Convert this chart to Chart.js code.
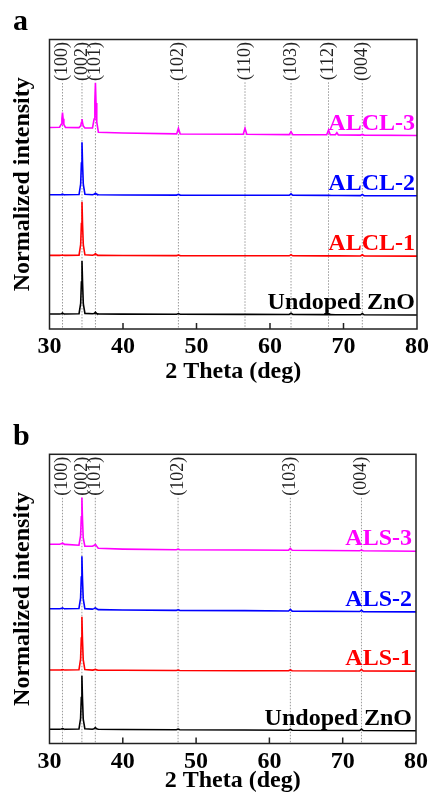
<!DOCTYPE html>
<html>
<head>
<meta charset="utf-8">
<script src="https://cdn.jsdelivr.net/npm/chart.js@4.4.1/dist/chart.umd.min.js"></script>
<style>
  html, body { margin: 0; padding: 0; background: #fff; }
  body { width: 432px; height: 795px; position: relative; overflow: hidden; }
  .panel { position: absolute; left: 0; width: 432px; }
  #wa { top: 0; height: 395px; }
  #wb { top: 395px; height: 400px; }
</style>
</head>
<body>
<div class="panel" id="wa"><canvas id="ca" width="432" height="395"></canvas></div>
<div class="panel" id="wb"><canvas id="cb" width="432" height="400"></canvas></div>
<script>
// ---------- DATA (2θ in degrees, intensity in normalized, offset-stacked units) ----------
const xTicks = [30, 40, 50, 60, 70, 80];

// Panel a
const peakPosA = [31.77, 34.42, 36.25, 47.54, 56.60, 62.86, 67.96, 72.56];
const peakLabA = ['(100)', '(002)', '(101)', '(102)', '(110)', '(103)', '(112)', '(004)'];
const seriesNamesA = ['Undoped ZnO', 'ALCL-1', 'ALCL-2', 'ALCL-3'];
const thetaA = [30,
  31.37, 31.59, 31.69, 31.77, 31.85, 31.95, 32.17,
  34.02, 34.24, 34.34, 34.42, 34.50, 34.60, 34.82,
  35.85, 36.07, 36.17, 36.25, 36.33, 36.43, 36.65,
  40,
  47.30, 47.54, 47.78, 56.36, 56.60, 56.84, 62.62, 62.86, 63.10,
  67.72, 67.96, 68.20, 68.90, 69.10, 69.30, 72.32, 72.56, 72.80,
  80];
const undopedA = [15.0,
  15.0, 15.2, 15.6, 16.0, 15.6, 15.2, 15.0,
  15.3, 25.5, 47, 68, 46, 25, 15.6,
  15.2, 15.5, 16.2, 16.8, 16.1, 15.4, 15.1,
  14.9,
  14.8, 15.4, 14.8, 14.6, 14.6, 14.6, 14.5, 15.8, 14.5,
  14.4, 14.4, 14.4, 14.3, 14.3, 14.3, 14.2, 15.6, 14.2,
  14.0];
const alcl1 = [73.6,
  73.6, 73.7, 73.8, 73.9, 73.8, 73.7, 73.6,
  73.8, 84.5, 105.5, 127.3, 104, 84, 74.2,
  73.7, 74.2, 74.8, 75.2, 74.8, 74.2, 73.6,
  73.5,
  73.4, 74.0, 73.4, 73.3, 73.3, 73.3, 73.2, 74.4, 73.2,
  73.1, 73.2, 73.1, 73.1, 73.1, 73.1, 73.0, 74.2, 73.0,
  72.9];
const alcl2 = [134.2,
  134.2, 134.4, 134.6, 134.8, 134.6, 134.4, 134.2,
  134.5, 145, 166, 186.7, 164.5, 144.5, 134.8,
  134.3, 134.8, 135.4, 135.8, 135.4, 134.8, 134.2,
  134.0,
  133.9, 134.7, 133.9, 133.8, 133.8, 133.8, 133.7, 135.2, 133.7,
  133.6, 133.7, 133.6, 133.5, 133.5, 133.5, 133.4, 134.6, 133.4,
  133.3];
const alcl3 = [201.5,
  201.8, 204.7, 210.5, 216.3, 210.3, 204.5, 201.6,
  201.4, 203.1, 206.5, 210.0, 206.2, 202.9, 201.0,
  201.0, 210, 228, 246.3, 226, 207, 196.8,
  196.0,
  195.1, 200.7, 195.0, 194.7, 200.7, 194.7, 194.4, 197.3, 194.3,
  194.2, 199.0, 194.3, 194.3, 196.3, 194.1, 193.9, 194.6, 193.9,
  193.5];

// Panel b
const peakPosB = [31.77, 34.42, 36.25, 47.54, 62.86, 72.56];
const peakLabB = ['(100)', '(002)', '(101)', '(102)', '(103)', '(004)'];
const seriesNamesB = ['Undoped ZnO', 'ALS-1', 'ALS-2', 'ALS-3'];
const thetaB = [30,
  31.37, 31.59, 31.69, 31.77, 31.85, 31.95, 32.17,
  34.02, 34.24, 34.34, 34.42, 34.50, 34.60, 34.82,
  35.85, 36.07, 36.17, 36.25, 36.33, 36.43, 36.65,
  40,
  47.30, 47.54, 47.78, 56.60, 62.62, 62.86, 63.10, 72.32, 72.56, 72.80,
  80];
const undopedB = [14.3,
  14.3, 14.5, 14.8, 15.0, 14.8, 14.5, 14.3,
  14.5, 25, 46, 67.8, 45, 24.5, 14.8,
  14.3, 14.7, 15.4, 15.9, 15.4, 14.7, 14.2,
  14.0,
  13.8, 14.4, 13.8, 13.5, 13.3, 14.3, 13.3, 13.0, 14.4, 13.0,
  12.8];
const als1 = [73.6,
  73.6, 73.7, 73.8, 73.8, 73.8, 73.7, 73.6,
  73.8, 84.4, 105.5, 126.8, 104, 84, 74.0,
  73.5, 73.7, 74.0, 74.2, 74.0, 73.7, 73.4,
  73.3,
  73.1, 73.5, 73.1, 72.9, 72.8, 73.6, 72.8, 72.6, 74.2, 72.6,
  72.5];
const als2 = [134.9,
  134.9, 135.2, 135.5, 135.8, 135.5, 135.2, 134.9,
  135.2, 145.6, 166.5, 187.5, 165, 145, 135.0,
  134.5, 135.0, 135.5, 135.8, 135.4, 134.8, 134.0,
  133.6,
  133.3, 133.9, 133.3, 133.0, 132.6, 134.2, 132.5, 132.1, 133.3, 132.0,
  131.8];
const als3 = [199.5,
  199.5, 199.9, 200.4, 200.8, 200.4, 199.8, 199.3,
  198.5, 208, 227, 246.2, 225, 206, 197.6,
  197.4, 198.2, 198.8, 199.2, 198.6, 197.6, 195.4,
  194.6,
  194.0, 194.6, 194.0, 193.7, 193.5, 195.2, 193.4, 193.0, 193.6, 192.9,
  192.5];

const seriesColors = ['#000000', '#ff0000', '#0000ff', '#ff00ff'];

// ---------- CHART BUILDING ----------
const SERIF = '"Liberation Serif", "Times New Roman", serif';

function pts(xs, ys) { return xs.map((x, i) => ({ x: x, y: ys[i] })); }

const overlay = {
  id: 'overlay',
  beforeDatasetsDraw(chart, args, o) {
    const { ctx, chartArea: ca } = chart;
    const x = chart.scales.x;
    ctx.save();
    ctx.font = '18px ' + SERIF;
    o.positions.forEach((pos, i) => {
      const px = x.getPixelForValue(pos);
      const w = ctx.measureText(o.labels[i]).width;
      ctx.save();
      ctx.translate(px, ca.top + 2.5);
      ctx.rotate(-Math.PI / 2);
      ctx.fillStyle = '#222';
      ctx.textAlign = 'right';
      ctx.textBaseline = 'middle';
      ctx.fillText(o.labels[i], 0, 0);
      ctx.restore();
      ctx.strokeStyle = '#9a9a9a';
      ctx.lineWidth = 1;
      ctx.setLineDash([1.5, 1.5]);
      ctx.beginPath();
      ctx.moveTo(px, ca.top + 2.5 + w + 2);
      ctx.lineTo(px, ca.bottom);
      ctx.stroke();
    });
    ctx.restore();
  },
  afterDatasetsDraw(chart, args, o) {
    const { ctx, chartArea: ca } = chart;
    const x = chart.scales.x, y = chart.scales.y;
    ctx.save();
    // frame
    ctx.strokeStyle = '#222';
    ctx.lineWidth = 1.5;
    ctx.strokeRect(ca.left, ca.top, ca.right - ca.left, ca.bottom - ca.top);
    // inward ticks
    ctx.beginPath();
    o.ticks.forEach(v => {
      const px = x.getPixelForValue(v);
      ctx.moveTo(px, ca.bottom);
      ctx.lineTo(px, ca.bottom - 6);
    });
    ctx.stroke();
    // series labels
    ctx.font = 'bold 24px ' + SERIF;
    ctx.textAlign = 'right';
    ctx.textBaseline = 'alphabetic';
    chart.data.datasets.forEach(ds => {
      const last = ds.data[ds.data.length - 1].y;
      ctx.fillStyle = ds.borderColor;
      ctx.fillText(ds.label, ca.right - o.labelInset, y.getPixelForValue(last) - 6);
    });
    // panel letter
    ctx.fillStyle = '#000';
    ctx.textAlign = 'left';
    ctx.font = 'bold 30px ' + SERIF;
    ctx.fillText(o.letter, 13, o.letterY);
    ctx.restore();
  }
};

function makeChart(id, theta, seriesList, names, positions, labels, cfg) {
  const datasets = seriesList.map((s, i) => ({
    label: names[i],
    data: pts(theta, s),
    borderColor: seriesColors[i],
    borderWidth: 1.6,
    pointRadius: 0,
    tension: 0,
    fill: false
  }));
  return new Chart(document.getElementById(id), {
    type: 'line',
    data: { datasets },
    plugins: [overlay],
    options: {
      responsive: false,
      animation: false,
      events: [],
      layout: { padding: cfg.padding },
      plugins: {
        legend: { display: false },
        tooltip: { enabled: false },
        overlay: { positions, labels, ticks: xTicks.slice(1, -1), letter: cfg.letter, letterY: cfg.letterY, labelInset: cfg.labelInset }
      },
      scales: {
        x: {
          type: 'linear', min: 30, max: 80,
          afterBuildTicks: s => { s.ticks = xTicks.map(v => ({ value: v })); },
          ticks: { color: '#000', padding: cfg.tickPad, maxRotation: 0, font: { family: SERIF, size: 24, weight: 'bold' } },
          grid: { display: false, drawTicks: false },
          border: { display: false },
          title: { display: true, text: '2 Theta (deg)', color: '#000', padding: { top: 0, bottom: 0 }, font: { family: SERIF, size: 24, weight: 'bold' } },
          afterFit: s => { s.height = cfg.xHeight; }
        },
        y: {
          type: 'linear', min: 0, max: 289.5,
          ticks: { display: false },
          grid: { display: false, drawTicks: false },
          border: { display: false },
          title: { display: true, text: 'Normalized intensity', color: '#000', padding: { top: 8, bottom: 0 }, font: { family: SERIF, size: 24, weight: 'bold' } },
          afterFit: s => { s.width = 49.5; }
        }
      }
    }
  });
}

makeChart('ca', thetaA, [undopedA, alcl1, alcl2, alcl3], seriesNamesA, peakPosA, peakLabA,
  { padding: { top: 39.5, right: 13.7, bottom: 8.6, left: 0 }, xHeight: 57.4, tickPad: 3, letter: 'a', letterY: 30, labelInset: 2 });
makeChart('cb', thetaB, [undopedB, als1, als2, als3], seriesNamesB, peakPosB, peakLabB,
  { padding: { top: 59.3, right: 13.7, bottom: 0, left: 0 }, xHeight: 51.5, tickPad: 4, letter: 'b', letterY: 50, labelInset: 4 });
</script>
</body>
</html>
